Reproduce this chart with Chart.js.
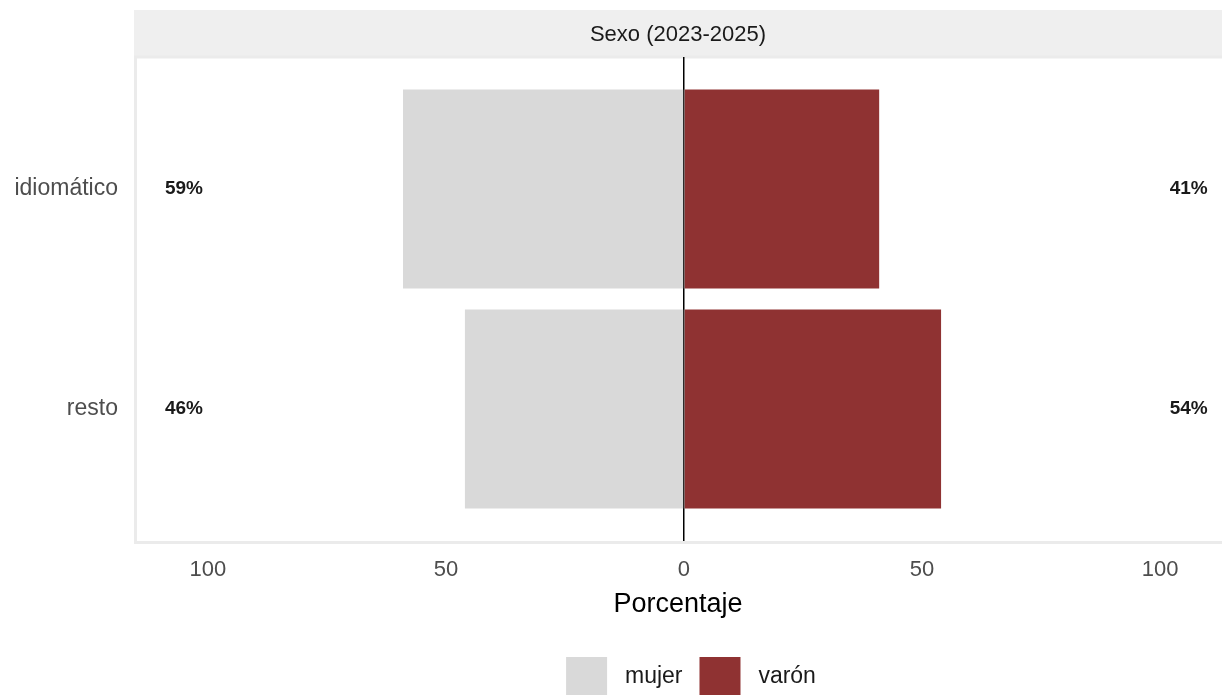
<!DOCTYPE html>
<html>
<head>
<meta charset="utf-8">
<script src="https://cdn.jsdelivr.net/npm/chart.js@4"></script>
<style>
  html, body { margin: 0; padding: 0; background: #fff; overflow: hidden; }
  #wrap { width: 1222px; height: 707px; }
</style>
</head>
<body>
<div id="wrap"><canvas id="myChart"></canvas></div>
<script>
"use strict";
const categories = ["idiomático", "resto"];
const mujer = [59, 46];
const varon = [41, 54];
const xTicks = [-100, -50, 0, 50, 100];
const stripTitle = "Sexo (2023-2025)";

const fontFamily = "'Liberation Sans', Arial, sans-serif";
const labelLeftAt = -105;
const labelRightAt = 106;

function toPoints(values, sign) {
    return categories.map(function (c, i) {
        return { x: sign * values[i], y: i + 1 };
    });
}

const panelPlugin = {
    id: "panel",
    afterLayout(chart) {
        // ggplot centres the legend a bit right of the canvas middle
        if (chart.legend) {
            chart.legend.left += 13;
            chart.legend.right += 13;
        }
    },
    beforeDraw(chart) {
        const ctx = chart.ctx;
        const a = chart.chartArea;
        ctx.save();
        // strip
        ctx.fillStyle = "#EFEFEF";
        ctx.fillRect(a.left, 10, a.right - a.left, a.top - 10);
        ctx.fillStyle = "#1A1A1A";
        ctx.font = "22px " + fontFamily;
        ctx.textAlign = "center";
        ctx.textBaseline = "middle";
        ctx.fillText(stripTitle, (a.left + a.right) / 2, (10 + a.top) / 2 + 1);
        // panel border
        ctx.strokeStyle = "#EBEBEB";
        ctx.lineWidth = 3;
        ctx.strokeRect(a.left + 1.5, a.top, a.right - a.left, a.bottom - a.top + 1.5);
        ctx.restore();
    },
    afterDatasetsDraw(chart) {
        const ctx = chart.ctx;
        const xs = chart.scales.x;
        const ys = chart.scales.y;
        ctx.save();
        ctx.fillStyle = "#1A1A1A";
        ctx.font = "bold 19px " + fontFamily;
        ctx.textAlign = "center";
        ctx.textBaseline = "middle";
        categories.forEach(function (c, i) {
            const y = ys.getPixelForValue(i + 1);
            ctx.fillText(mujer[i] + "%", xs.getPixelForValue(labelLeftAt), y);
            ctx.fillText(varon[i] + "%", xs.getPixelForValue(labelRightAt), y);
        });
        ctx.restore();
    }
};

new Chart(document.getElementById("myChart"), {
    type: "bar",
    data: {
        datasets: [
            {
                label: "mujer",
                data: toPoints(mujer, -1),
                stack: "sexo",
                backgroundColor: "#D9D9D9",
                borderWidth: 0,
                barPercentage: 0.905,
                categoryPercentage: 1
            },
            {
                label: "varón",
                data: toPoints(varon, 1),
                stack: "sexo",
                backgroundColor: "#8F3232",
                borderWidth: 0,
                barPercentage: 0.905,
                categoryPercentage: 1
            }
        ]
    },
    options: {
        indexAxis: "y",
        responsive: true,
        maintainAspectRatio: false,
        animation: false,
        layout: { padding: { top: 57, left: 0, right: 0, bottom: 0 } },
        scales: {
            x: {
                type: "linear",
                stacked: true,
                min: -115.5,
                max: 113,
                z: 1,
                afterBuildTicks(scale) {
                    scale.ticks = xTicks.map(function (v) { return { value: v }; });
                },
                afterFit(scale) { scale.height = 99; },
                ticks: {
                    callback: function (v) { return Math.abs(v); },
                    color: "#4D4D4D",
                    font: { family: fontFamily, size: 22 },
                    padding: 16,
                    maxRotation: 0
                },
                grid: {
                    drawTicks: false,
                    lineWidth: 1.5,
                    color: function (c) { return c.tick && c.tick.value === 0 ? "#000000" : "rgba(0,0,0,0)"; }
                },
                border: { display: false },
                title: {
                    display: true,
                    text: "Porcentaje",
                    color: "#000000",
                    font: { family: fontFamily, size: 27 },
                    padding: { top: 0, bottom: 19 }
                }
            },
            y: {
                type: "linear",
                reverse: true,
                offset: false,
                min: 0.4,
                max: 2.6,
                afterBuildTicks(scale) {
                    scale.ticks = categories.map(function (c, i) { return { value: i + 1 }; });
                },
                afterFit(scale) { scale.width = 134; },
                ticks: {
                    callback: function (v) { return categories[v - 1]; },
                    color: "#4D4D4D",
                    font: { family: fontFamily, size: 23 },
                    padding: 16
                },
                grid: { display: false, drawTicks: false, offset: false },
                border: { display: false }
            }
        },
        plugins: {
            legend: {
                position: "bottom",
                fullSize: false,
                labels: {
                    boxWidth: 41,
                    boxHeight: 40,
                    padding: 17,
                    color: "#1A1A1A",
                    font: { family: fontFamily, size: 23 },
                    generateLabels(chart) {
                        const items = Chart.defaults.plugins.legend.labels.generateLabels(chart);
                        items.forEach(function (it) { it.text = " " + it.text; it.lineWidth = 0; });
                        return items;
                    }
                }
            },
            tooltip: { enabled: false }
        }
    },
    plugins: [panelPlugin]
});
</script>
</body>
</html>
